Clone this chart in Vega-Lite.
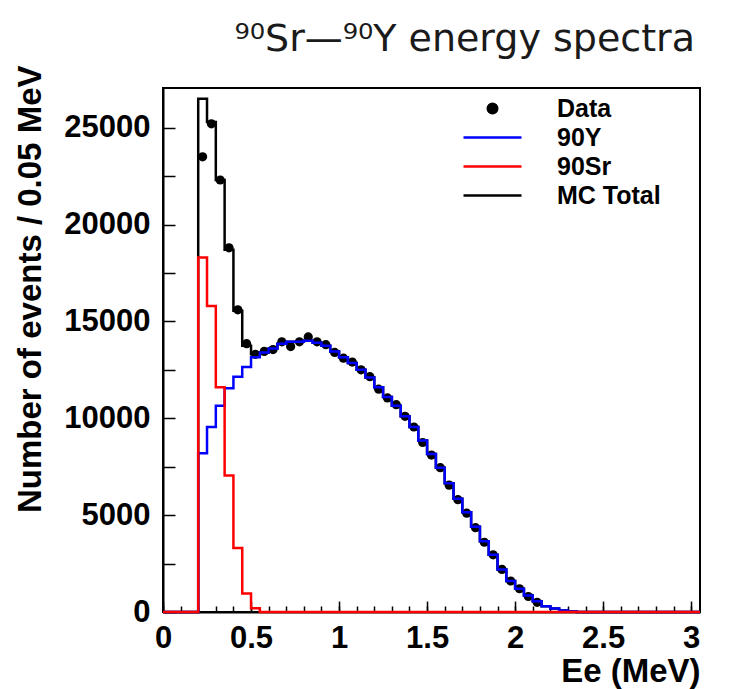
{
  "$schema": "https://vega.github.io/schema/vega-lite/v6.json",
  "width": 537,
  "height": 524,
  "autosize": {"type": "none"},
  "padding": {"left": 163, "top": 88, "right": 30, "bottom": 77},
  "background": "white",
  "title": {"text": "⁹⁰Sr—⁹⁰Y energy spectra", "anchor": "end", "dx": -10, "offset": 6, "font": "DejaVu Sans", "fontSize": 38, "fontWeight": "normal", "color": "#1a1a1a"},
  "config": {
    "view": {"stroke": "black", "strokeWidth": 2},
    "axis": {"domainColor": "black", "domainWidth": 2, "tickColor": "black", "tickWidth": 1.5, "labelFont": "Liberation Sans", "labelFontWeight": "bold", "labelColor": "black", "titleFont": "Liberation Sans", "titleFontWeight": "bold", "titleColor": "black", "grid": false, "labelFlush": false, "labelOverlap": false}
  },
  "resolve": {"axis": {"x": "independent", "y": "independent"}},
  "datasets": {
    "hist": [
      {"E": 0, "n": 0, "s": "MC Total"},
      {"E": 0.2, "n": 26500, "s": "MC Total"},
      {"E": 0.25, "n": 25300, "s": "MC Total"},
      {"E": 0.3, "n": 22300, "s": "MC Total"},
      {"E": 0.35, "n": 18700, "s": "MC Total"},
      {"E": 0.4, "n": 15550, "s": "MC Total"},
      {"E": 0.45, "n": 13750, "s": "MC Total"},
      {"E": 0.5, "n": 13300, "s": "MC Total"},
      {"E": 0.55, "n": 13400, "s": "MC Total"},
      {"E": 0.6, "n": 13600, "s": "MC Total"},
      {"E": 0.65, "n": 13850, "s": "MC Total"},
      {"E": 0.7, "n": 13950, "s": "MC Total"},
      {"E": 0.75, "n": 13950, "s": "MC Total"},
      {"E": 0.8, "n": 14000, "s": "MC Total"},
      {"E": 0.85, "n": 13900, "s": "MC Total"},
      {"E": 0.9, "n": 13750, "s": "MC Total"},
      {"E": 0.95, "n": 13450, "s": "MC Total"},
      {"E": 1.0, "n": 13150, "s": "MC Total"},
      {"E": 1.05, "n": 12850, "s": "MC Total"},
      {"E": 1.1, "n": 12500, "s": "MC Total"},
      {"E": 1.15, "n": 12100, "s": "MC Total"},
      {"E": 1.2, "n": 11600, "s": "MC Total"},
      {"E": 1.25, "n": 11100, "s": "MC Total"},
      {"E": 1.3, "n": 10650, "s": "MC Total"},
      {"E": 1.35, "n": 10100, "s": "MC Total"},
      {"E": 1.4, "n": 9550, "s": "MC Total"},
      {"E": 1.45, "n": 8850, "s": "MC Total"},
      {"E": 1.5, "n": 8150, "s": "MC Total"},
      {"E": 1.55, "n": 7450, "s": "MC Total"},
      {"E": 1.6, "n": 6650, "s": "MC Total"},
      {"E": 1.65, "n": 5850, "s": "MC Total"},
      {"E": 1.7, "n": 5150, "s": "MC Total"},
      {"E": 1.75, "n": 4400, "s": "MC Total"},
      {"E": 1.8, "n": 3650, "s": "MC Total"},
      {"E": 1.85, "n": 2950, "s": "MC Total"},
      {"E": 1.9, "n": 2200, "s": "MC Total"},
      {"E": 1.95, "n": 1600, "s": "MC Total"},
      {"E": 2.0, "n": 1200, "s": "MC Total"},
      {"E": 2.05, "n": 850, "s": "MC Total"},
      {"E": 2.1, "n": 550, "s": "MC Total"},
      {"E": 2.15, "n": 300, "s": "MC Total"},
      {"E": 2.2, "n": 180, "s": "MC Total"},
      {"E": 2.25, "n": 80, "s": "MC Total"},
      {"E": 2.3, "n": 30, "s": "MC Total"},
      {"E": 2.35, "n": 0, "s": "MC Total"},
      {"E": 3.05, "n": 0, "s": "MC Total"},

      {"E": 0, "n": 0, "s": "90Y"},
      {"E": 0.2, "n": 8200, "s": "90Y"},
      {"E": 0.25, "n": 9550, "s": "90Y"},
      {"E": 0.3, "n": 10650, "s": "90Y"},
      {"E": 0.35, "n": 11550, "s": "90Y"},
      {"E": 0.4, "n": 12150, "s": "90Y"},
      {"E": 0.45, "n": 12650, "s": "90Y"},
      {"E": 0.5, "n": 13150, "s": "90Y"},
      {"E": 0.55, "n": 13400, "s": "90Y"},
      {"E": 0.6, "n": 13600, "s": "90Y"},
      {"E": 0.65, "n": 13850, "s": "90Y"},
      {"E": 0.7, "n": 13950, "s": "90Y"},
      {"E": 0.75, "n": 13950, "s": "90Y"},
      {"E": 0.8, "n": 14000, "s": "90Y"},
      {"E": 0.85, "n": 13900, "s": "90Y"},
      {"E": 0.9, "n": 13750, "s": "90Y"},
      {"E": 0.95, "n": 13450, "s": "90Y"},
      {"E": 1.0, "n": 13150, "s": "90Y"},
      {"E": 1.05, "n": 12850, "s": "90Y"},
      {"E": 1.1, "n": 12500, "s": "90Y"},
      {"E": 1.15, "n": 12100, "s": "90Y"},
      {"E": 1.2, "n": 11600, "s": "90Y"},
      {"E": 1.25, "n": 11100, "s": "90Y"},
      {"E": 1.3, "n": 10650, "s": "90Y"},
      {"E": 1.35, "n": 10100, "s": "90Y"},
      {"E": 1.4, "n": 9550, "s": "90Y"},
      {"E": 1.45, "n": 8850, "s": "90Y"},
      {"E": 1.5, "n": 8150, "s": "90Y"},
      {"E": 1.55, "n": 7450, "s": "90Y"},
      {"E": 1.6, "n": 6650, "s": "90Y"},
      {"E": 1.65, "n": 5850, "s": "90Y"},
      {"E": 1.7, "n": 5150, "s": "90Y"},
      {"E": 1.75, "n": 4400, "s": "90Y"},
      {"E": 1.8, "n": 3650, "s": "90Y"},
      {"E": 1.85, "n": 2950, "s": "90Y"},
      {"E": 1.9, "n": 2200, "s": "90Y"},
      {"E": 1.95, "n": 1600, "s": "90Y"},
      {"E": 2.0, "n": 1200, "s": "90Y"},
      {"E": 2.05, "n": 850, "s": "90Y"},
      {"E": 2.1, "n": 550, "s": "90Y"},
      {"E": 2.15, "n": 300, "s": "90Y"},
      {"E": 2.2, "n": 180, "s": "90Y"},
      {"E": 2.25, "n": 80, "s": "90Y"},
      {"E": 2.3, "n": 30, "s": "90Y"},
      {"E": 2.35, "n": 0, "s": "90Y"},
      {"E": 3.05, "n": 0, "s": "90Y"},

      {"E": 0, "n": 0, "s": "90Sr"},
      {"E": 0.2, "n": 18300, "s": "90Sr"},
      {"E": 0.25, "n": 15800, "s": "90Sr"},
      {"E": 0.3, "n": 11600, "s": "90Sr"},
      {"E": 0.35, "n": 7050, "s": "90Sr"},
      {"E": 0.4, "n": 3300, "s": "90Sr"},
      {"E": 0.45, "n": 950, "s": "90Sr"},
      {"E": 0.5, "n": 200, "s": "90Sr"},
      {"E": 0.55, "n": 0, "s": "90Sr"},
      {"E": 3.05, "n": 0, "s": "90Sr"}
    ],
    "pts": [
      {"E": 0.225, "n": 23500, "s": "Data"},
      {"E": 0.275, "n": 25200, "s": "Data"},
      {"E": 0.325, "n": 22300, "s": "Data"},
      {"E": 0.375, "n": 18800, "s": "Data"},
      {"E": 0.425, "n": 15600, "s": "Data"},
      {"E": 0.475, "n": 13850, "s": "Data"},
      {"E": 0.525, "n": 13300, "s": "Data"},
      {"E": 0.575, "n": 13450, "s": "Data"},
      {"E": 0.625, "n": 13550, "s": "Data"},
      {"E": 0.675, "n": 13950, "s": "Data"},
      {"E": 0.725, "n": 13700, "s": "Data"},
      {"E": 0.775, "n": 13950, "s": "Data"},
      {"E": 0.825, "n": 14200, "s": "Data"},
      {"E": 0.875, "n": 13950, "s": "Data"},
      {"E": 0.925, "n": 13800, "s": "Data"},
      {"E": 0.975, "n": 13400, "s": "Data"},
      {"E": 1.025, "n": 13100, "s": "Data"},
      {"E": 1.075, "n": 12900, "s": "Data"},
      {"E": 1.125, "n": 12500, "s": "Data"},
      {"E": 1.175, "n": 12150, "s": "Data"},
      {"E": 1.225, "n": 11500, "s": "Data"},
      {"E": 1.275, "n": 11050, "s": "Data"},
      {"E": 1.325, "n": 10700, "s": "Data"},
      {"E": 1.375, "n": 10100, "s": "Data"},
      {"E": 1.425, "n": 9550, "s": "Data"},
      {"E": 1.475, "n": 8750, "s": "Data"},
      {"E": 1.525, "n": 8100, "s": "Data"},
      {"E": 1.575, "n": 7450, "s": "Data"},
      {"E": 1.625, "n": 6550, "s": "Data"},
      {"E": 1.675, "n": 5800, "s": "Data"},
      {"E": 1.725, "n": 5100, "s": "Data"},
      {"E": 1.775, "n": 4350, "s": "Data"},
      {"E": 1.825, "n": 3600, "s": "Data"},
      {"E": 1.875, "n": 2950, "s": "Data"},
      {"E": 1.925, "n": 2200, "s": "Data"},
      {"E": 1.975, "n": 1600, "s": "Data"},
      {"E": 2.025, "n": 1200, "s": "Data"},
      {"E": 2.075, "n": 800, "s": "Data"},
      {"E": 2.125, "n": 500, "s": "Data"}
    ]
  },
  "layer": [
    {
      "data": {"name": "hist"},
      "transform": [{"filter": "datum.s === 'MC Total'"}],
      "mark": {"type": "line", "interpolate": "step-after", "strokeWidth": 2.5},
      "encoding": {
        "x": {"field": "E", "type": "quantitative", "scale": {"domain": [0, 3.05], "nice": false, "zero": false},
          "axis": {"orient": "bottom", "title": "Ee (MeV)", "titleFontSize": 33, "titleAnchor": "end", "titlePadding": 2,
            "values": [0, 0.5, 1, 1.5, 2, 2.5, 3], "format": "~g", "ticks": false,
            "labelFontSize": 31, "labelPadding": 11, "labelOverlap": false, "labelFlush": false}},
        "y": {"field": "n", "type": "quantitative", "scale": {"domain": [0, 27050], "nice": false, "zero": true},
          "axis": {"orient": "left", "title": "Number of events / 0.05 MeV", "titleFontSize": 33, "titleAnchor": "end", "titleY": -23, "titlePadding": 16,
            "values": [0, 5000, 10000, 15000, 20000, 25000], "format": "d", "ticks": false,
            "labelFontSize": 31, "labelPadding": 13, "labelOverlap": false, "labelFlush": false}},
        "color": {"field": "s", "type": "nominal",
          "scale": {"domain": ["Data", "90Y", "90Sr", "MC Total"], "range": ["black", "#0000ff", "#ff0000", "black"]},
          "legend": {"title": null, "orient": "none", "legendX": 317, "legendY": 8, "symbolSize": 400, "symbolStrokeWidth": 2.5,
            "labelOffset": 52, "rowPadding": 3, "labelFont": "Liberation Sans", "labelFontSize": 25, "labelFontWeight": "bold", "labelColor": "black",
            "encode": {"symbols": {"update": {
              "shape": {"signal": "datum.value === 'Data' ? 'circle' : 'M-2.9,0H2.9'"},
              "size": {"signal": "datum.value === 'Data' ? 90 : 400"},
              "fill": {"signal": "datum.value === 'Data' ? 'black' : 'transparent'"},
              "stroke": {"signal": "datum.value === 'Data' ? 'transparent' : (datum.value === '90Y' ? '#0000ff' : (datum.value === '90Sr' ? '#ff0000' : 'black'))"},
              "strokeWidth": {"value": 2.5},
              "opacity": {"value": 1}
            }}}}
        }
      }
    },
    {
      "data": {"name": "pts"},
      "mark": {"type": "point", "filled": true, "size": 85, "opacity": 1},
      "encoding": {
        "x": {"field": "E", "type": "quantitative",
          "axis": {"orient": "bottom", "offset": -6, "tickSize": 6, "domain": false, "labels": false, "title": null,
            "values": [0, 0.1, 0.2, 0.3, 0.4, 0.5, 0.6, 0.7, 0.8, 0.9, 1, 1.1, 1.2, 1.3, 1.4, 1.5, 1.6, 1.7, 1.8, 1.9, 2, 2.1, 2.2, 2.3, 2.4, 2.5, 2.6, 2.7, 2.8, 2.9, 3]}},
        "y": {"field": "n", "type": "quantitative",
          "axis": {"orient": "left", "offset": -12, "tickSize": 12, "domain": false, "labels": false, "title": null,
            "values": [0, 2500, 5000, 7500, 10000, 12500, 15000, 17500, 20000, 22500, 25000]}},
        "color": {"field": "s", "type": "nominal"}
      }
    },
    {
      "data": {"name": "hist"},
      "transform": [{"filter": "datum.s === '90Y'"}],
      "mark": {"type": "line", "interpolate": "step-after", "strokeWidth": 2.5},
      "encoding": {
        "x": {"field": "E", "type": "quantitative",
          "axis": {"orient": "bottom", "offset": -11, "tickSize": 11, "domain": false, "labels": false, "title": null,
            "values": [0, 0.5, 1, 1.5, 2, 2.5, 3]}},
        "y": {"field": "n", "type": "quantitative", "axis": null},
        "color": {"field": "s", "type": "nominal"}
      }
    },
    {
      "data": {"name": "hist"},
      "transform": [{"filter": "datum.s === '90Sr'"}],
      "mark": {"type": "line", "interpolate": "step-after", "strokeWidth": 2.5},
      "encoding": {
        "x": {"field": "E", "type": "quantitative", "axis": null},
        "y": {"field": "n", "type": "quantitative", "axis": null},
        "color": {"field": "s", "type": "nominal"}
      }
    }
  ]
}
